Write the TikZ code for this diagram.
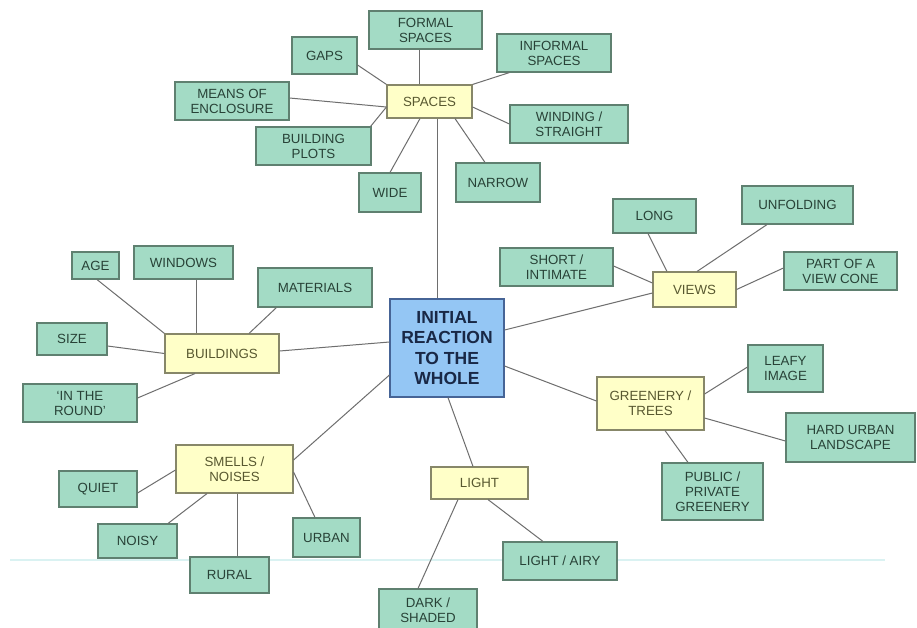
\documentclass[tikz,border=0pt]{standalone}
\usepackage{fontspec}
\setmainfont{Liberation Sans}
\usetikzlibrary{calc}
\definecolor{gfill}{RGB}{163,219,197}
\definecolor{gdraw}{RGB}{95,128,112}
\definecolor{gtext}{RGB}{40,66,55}
\definecolor{yfill}{RGB}{255,255,200}
\definecolor{ydraw}{RGB}{135,135,105}
\definecolor{ytext}{RGB}{88,88,48}
\definecolor{cfill}{RGB}{148,198,244}
\definecolor{cdraw}{RGB}{70,100,150}
\definecolor{ctext}{RGB}{25,40,70}
\definecolor{linkcol}{RGB}{110,110,110}
\definecolor{scanline}{RGB}{218,242,242}
\tikzset{
  sz/.style 2 args={minimum width=#1pt,minimum height=#2pt},
  basebox/.style={draw,line width=1.1pt,inner sep=0pt,align=center,
    font=\fontsize{13.3}{15}\selectfont},
  gbox/.style={basebox,fill=gfill,draw=gdraw,text=gtext},
  ybox/.style={basebox,fill=yfill,draw=ydraw,text=ytext},
  cbox/.style={basebox,fill=cfill,draw=cdraw,text=ctext,
    font=\fontsize{17.5}{20.5}\selectfont\bfseries},
  link/.style={draw=linkcol,line width=1pt}
}
\begin{document}
\begin{tikzpicture}[x=1pt,y=-1pt]
\useasboundingbox (0,0) rectangle (917,627);
\clip (0,0) rectangle (917,627);
\fill[white] (0,0) rectangle (917,627);
% faint scan line
\coordinate (sl1) at (10,560);
\coordinate (sl2) at (885,560);
\draw[scanline,line width=2pt] (sl1) -- (sl2);

% ---------- nodes ----------
\node[cbox,sz={114}{98}] (center) at (447,348) {INITIAL\\REACTION\\TO THE\\WHOLE};

% spaces
\node[ybox,sz={85}{33}] (spaces) at (429.5,101.5) {SPACES};
\node[gbox,sz={113}{38}] (formal) at (425.5,30) {FORMAL\\SPACES};
\node[gbox,sz={65}{37}] (gaps) at (324.5,55.5) {GAPS};
\node[gbox,sz={114}{38}] (informal) at (554,53) {INFORMAL\\SPACES};
\node[gbox,sz={114}{38}] (means) at (232,101) {MEANS OF\\ENCLOSURE};
\node[gbox,sz={115}{38}] (plots) at (313.5,146) {BUILDING\\PLOTS};
\node[gbox,sz={62}{39}] (wide) at (390,192.5) {WIDE};
\node[gbox,sz={84}{39}] (narrow) at (498,182.5) {NARROW};
\node[gbox,sz={118}{38}] (winding) at (569,124) {WINDING /\\STRAIGHT};

% views
\node[ybox,sz={83}{35}] (views) at (694.5,289.5) {VIEWS};
\node[gbox,sz={83}{34}] (long) at (654.5,216) {LONG};
\node[gbox,sz={111}{38}] (unfolding) at (797.5,205) {UNFOLDING};
\node[gbox,sz={113}{38}] (short) at (556.5,267) {SHORT /\\INTIMATE};
\node[gbox,sz={113}{38}] (part) at (840.5,271) {PART OF A\\VIEW CONE};

% buildings
\node[ybox,sz={114}{39}] (buildings) at (222,353.5) {BUILDINGS};
\node[gbox,sz={47}{27}] (age) at (95.5,265.5) {AGE};
\node[gbox,sz={99}{33}] (windows) at (183.5,262.5) {WINDOWS};
\node[gbox,sz={114}{39}] (materials) at (315,287.5) {MATERIALS};
\node[gbox,sz={70}{32}] (size) at (72,339) {SIZE};
\node[gbox,sz={114}{38}] (round) at (80,403) {‘IN THE\\ROUND’};

% greenery
\node[ybox,sz={107}{53}] (greenery) at (650.5,403.5) {GREENERY /\\TREES};
\node[gbox,sz={75}{47}] (leafy) at (785.5,368.5) {LEAFY\\IMAGE};
\node[gbox,sz={129}{49}] (hard) at (850.5,437.5) {HARD URBAN\\LANDSCAPE};
\node[gbox,sz={101}{57}] (public) at (712.5,491.5) {PUBLIC /\\PRIVATE\\GREENERY};

% light
\node[ybox,sz={97}{32}] (light) at (479.5,483) {LIGHT};
\node[gbox,sz={114}{38}] (airy) at (560,561) {LIGHT / AIRY};
\node[gbox,sz={98}{43}] (dark) at (428,610.5) {DARK /\\SHADED};

% smells
\node[ybox,sz={117}{48}] (smells) at (234.5,469) {SMELLS /\\NOISES};
\node[gbox,sz={78}{36}] (quiet) at (98,489) {QUIET};
\node[gbox,sz={79}{34}] (noisy) at (137.5,541) {NOISY};
\node[gbox,sz={79}{36}] (rural) at (229.5,575) {RURAL};
\node[gbox,sz={67}{39}] (urban) at (326.5,537.5) {URBAN};

% ---------- connectors ----------
% spaces group
\draw[link] ($(gaps.east)+(0,9.5)$) -- (spaces.north west);
\draw[link] ($(formal.south)+(-6,0)$) -- ($(spaces.north)+(-10,0)$);
\draw[link] (spaces.north east) -- ($(informal.south west)+(13,0)$);
\draw[link] ($(spaces.east)+(0,5.5)$) -- (winding.west);
\draw[link] ($(spaces.south)+(25.5,0)$) -- ($(narrow.north)+(-13,0)$);
\draw[link] ($(spaces.south)+(-9.5,0)$) -- (wide.north);
\draw[link] ($(plots.north east)+(-1,0)$) -- ($(spaces.west)+(0,5.5)$);
\draw[link] ($(means.east)+(0,-3)$) -- ($(spaces.west)+(0,5.5)$);
\draw[link] ($(spaces.south)+(7.5,0)$) -- ($(center.north)+(-10,0)$);
% views group
\draw[link] ($(center.east)+(0,-18)$) -- ($(views.west)+(0,3.5)$);
\draw[link] ($(long.south)+(-6.5,0)$) -- ($(views.north)+(-27.5,0)$);
\draw[link] ($(unfolding.south)+(-30.5,0)$) -- ($(views.north)+(2.5,0)$);
\draw[link] ($(short.east)+(0,-1)$) -- ($(views.west)+(0,-6.5)$);
\draw[link] ($(part.west)+(0,-3)$) -- (views.east);
% buildings group
\draw[link] ($(buildings.east)+(0,-2.5)$) -- ($(center.west)+(0,-6)$);
\draw[link] ($(age.south)+(1.5,0)$) -- (buildings.north west);
\draw[link] ($(windows.south)+(12.5,0)$) -- ($(buildings.north)+(-26,0)$);
\draw[link] ($(materials.south west)+(19,0)$) -- ($(buildings.north)+(27,0)$);
\draw[link] ($(size.east)+(0,7)$) -- (buildings.west);
\draw[link] ($(round.east)+(0,-5)$) -- ($(buildings.south)+(-27,0)$);
% greenery group
\draw[link] ($(center.east)+(0,18)$) -- ($(greenery.west)+(0,-2.5)$);
\draw[link] ($(greenery.east)+(0,-9.5)$) -- ($(leafy.west)+(0,-1.5)$);
\draw[link] ($(greenery.east)+(0,14.5)$) -- ($(hard.west)+(0,3.5)$);
\draw[link] ($(greenery.south)+(14.5,0)$) -- ($(public.north)+(-24.5,0)$);
% light group
\draw[link] ($(center.south)+(1,0)$) -- ($(light.north)+(-6.5,0)$);
\draw[link] ($(light.south)+(-21.5,0)$) -- ($(dark.north)+(-10,0)$);
\draw[link] ($(light.south)+(8.5,0)$) -- ($(airy.north)+(-17,0)$);
% smells group
\draw[link] ($(center.west)+(0,27)$) -- ($(smells.east)+(0,-9)$);
\draw[link] ($(quiet.east)+(0,4)$) -- ($(smells.west)+(0,1)$);
\draw[link] ($(noisy.north)+(30.5,0)$) -- ($(smells.south)+(-27.5,0)$);
\draw[link] ($(smells.south)+(2.5,0)$) -- ($(rural.north)+(7.5,0)$);
\draw[link] ($(smells.east)+(0,3)$) -- ($(urban.north)+(-11.5,0)$);
\end{tikzpicture}
\end{document}
